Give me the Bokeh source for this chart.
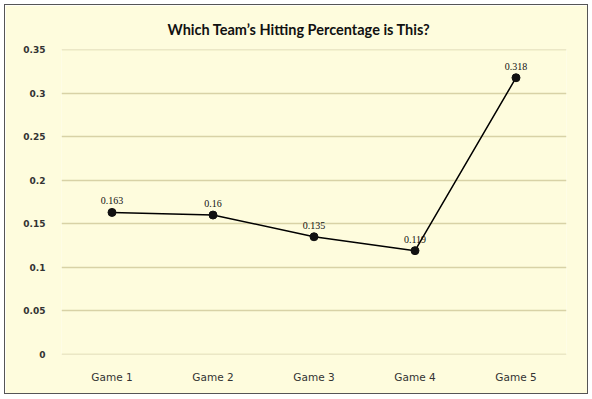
from bokeh.plotting import figure
from bokeh.models import ColumnDataSource, FixedTicker, Range1d, LabelSet
from bokeh.embed import file_html
from bokeh.resources import INLINE

games = ["Game 1", "Game 2", "Game 3", "Game 4", "Game 5"]
hitting = [0.163, 0.16, 0.135, 0.119, 0.318]
labels = ["0.163", "0.16", "0.135", "0.119", "0.318"]
y_ticks = [0, 0.05, 0.1, 0.15, 0.2, 0.25, 0.3, 0.35]
y_tick_labels = ["0", "0.05", "0.1", "0.15", "0.2", "0.25", "0.3", "0.35"]

bg = "#FEFCDD"
src = ColumnDataSource(data=dict(x=games, y=hitting, t=labels))

p = figure(x_range=games, y_range=Range1d(-0.0005, 0.3505), width=584, height=390,
           output_backend="svg", toolbar_location=None,
           min_border_left=56, min_border_right=23, min_border_top=44, min_border_bottom=41)
p.background_fill_color = bg
p.border_fill_color = bg
p.outline_line_color = None
p.styles = {"border": "1.5px solid #555555", "box-sizing": "border-box", "margin": "4px"}

p.title.text = "Which Team\u2019s Hitting Percentage is This?"
p.title.align = "left"
p.title.offset = 106
p.title.standoff = 23
p.title.text_font = "Lato"
p.title.text_font_size = "14.5px"
p.title.text_font_style = "bold"
p.title.text_color = "#111111"

p.line("x", "y", source=src, line_color="black", line_width=1.5)
p.scatter("x", "y", source=src, size=8, fill_color="#111111", line_color="#111111")
p.add_layout(LabelSet(x="x", y="y", text="t", source=src, x_offset=0, y_offset=8,
                      text_align="center", text_font="DejaVu Serif",
                      text_font_size="10px", text_color="#111111"))

p.yaxis.ticker = FixedTicker(ticks=y_ticks)
p.yaxis.major_label_overrides = {t: l for t, l in zip(y_ticks, y_tick_labels)}
for ax in (p.xaxis, p.yaxis):
    ax.axis_line_color = None
    ax.major_tick_line_color = None
    ax.minor_tick_line_color = None
    ax.major_label_text_font = "DejaVu Sans"
    ax.major_label_text_color = "#333333"
p.yaxis.major_label_text_font_size = "9px"
p.xaxis.major_label_text_font_size = "10.5px"
p.yaxis.major_label_text_font_style = "bold"
p.yaxis.major_label_standoff = 10
p.xaxis.major_label_standoff = 10

p.xgrid.grid_line_color = None
p.ygrid.ticker = FixedTicker(ticks=y_ticks)
p.ygrid.grid_line_color = "#D8D2A6"
p.ygrid.grid_line_width = 1.5

open("out.html", "w").write(file_html(p, INLINE))
